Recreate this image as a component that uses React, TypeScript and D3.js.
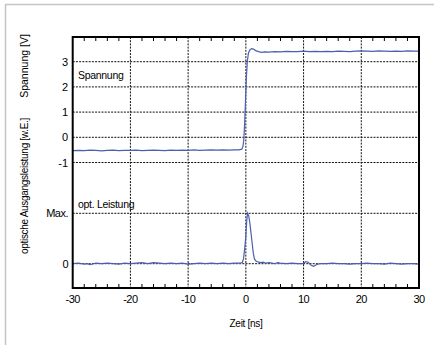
import React from "react";
import * as d3 from "d3";

const xTicks = [-30, -20, -10, 0, 10, 20, 30];
const voltTicks = [3, 2, 1, 0, -1];
const powerTicks: [number, string][] = [[1, "Max."], [0, "0"]];

const voltage: [number, number][] = [
  [-30, -0.53], [-29, -0.52], [-28, -0.53], [-27, -0.51], [-26, -0.52], [-25, -0.54], [-24, -0.52],
  [-23, -0.51], [-22, -0.53], [-21, -0.52], [-20, -0.52], [-19, -0.51], [-18, -0.53], [-17, -0.52],
  [-16, -0.51], [-15, -0.52], [-14, -0.53], [-13, -0.51], [-12, -0.52], [-11, -0.51], [-10, -0.52],
  [-9, -0.5], [-8, -0.52], [-7, -0.51], [-6, -0.5], [-5, -0.51], [-4, -0.5], [-3, -0.51], [-2, -0.5],
  [-1.2, -0.5], [-0.7, -0.47], [-0.5, -0.36], [-0.35, -0.1], [-0.2, 0.6], [-0.05, 1.5], [0.1, 2.4],
  [0.25, 3.0], [0.45, 3.35], [0.7, 3.47], [1.0, 3.52], [1.3, 3.5], [1.7, 3.44], [2.2, 3.4], [2.7, 3.37],
  [3.3, 3.39], [4, 3.38], [5, 3.4], [6, 3.39], [7, 3.41], [8, 3.4], [9, 3.4], [10, 3.42], [11, 3.4],
  [12, 3.41], [13, 3.4], [14, 3.41], [15, 3.4], [16, 3.42], [17, 3.41], [18, 3.4], [19, 3.42], [20, 3.43],
  [21, 3.42], [22, 3.41], [23, 3.43], [24, 3.42], [25, 3.41], [26, 3.42], [27, 3.41], [28, 3.43],
  [29, 3.42], [30, 3.42],
];

const power: [number, number][] = [
  [-30, 0.0], [-29, 0.01], [-28, -0.01], [-27.5, 0.0], [-27, -0.02], [-26, 0.01], [-25, 0.0], [-24, 0.01],
  [-23, 0.0], [-22, -0.01], [-21, 0.01], [-20, 0.0], [-19, 0.01], [-18, 0.02], [-17, 0.0], [-16, 0.02],
  [-15, 0.01], [-14, 0.0], [-13, 0.01], [-12, 0.0], [-11, 0.01], [-10, -0.01], [-9, 0.0], [-8, 0.01],
  [-7, 0.0], [-6, 0.01], [-5, 0.0], [-4, 0.01], [-3, 0.0], [-2, 0.01], [-1, 0.01], [-0.6, 0.03],
  [-0.4, 0.1], [-0.2, 0.3], [0, 0.55], [0.15, 0.85], [0.3, 1.0], [0.5, 0.95], [0.7, 0.8], [0.9, 0.6],
  [1.1, 0.4], [1.3, 0.2], [1.5, 0.09], [1.8, 0.05], [2.2, 0.03], [2.6, 0.02], [3, 0.03], [3.5, 0.01],
  [4, 0.02], [5, 0.0], [5.5, 0.02], [6, 0.01], [7, 0.0], [8, 0.01], [9, 0.0], [9.8, 0.0], [10.4, 0.04],
  [10.8, 0.03], [11.2, -0.02], [11.7, -0.05], [12.2, -0.02], [12.8, 0.0], [14, 0.0], [15, 0.01],
  [16, 0.0], [17, 0.0], [18, -0.01], [19, 0.0], [20, 0.0], [21, 0.01], [22, 0.0], [23, 0.0],
  [24, -0.01], [25, 0.01], [26, 0.0], [27, -0.01], [28, 0.0], [29, 0.0], [30, -0.01],
];

const W = 434, H = 348;
const L = 72.7, R = 419, T = 37, B = 288;
const FONT = "'Liberation Sans', Arial, sans-serif";
const LINE = "#4a5fb0";

export default function App() {
  const x = d3.scaleLinear().domain([-30, 30]).range([L, R]);
  const yV = d3.scaleLinear().domain([0, 3]).range([137.3, 61.7]);
  const yP = d3.scaleLinear().domain([0, 1]).range([263.7, 213.3]);
  const vLine = d3.line<[number, number]>().x(d => x(d[0])).y(d => yV(d[1]));
  const pLine = d3.line<[number, number]>().x(d => x(d[0])).y(d => yP(d[1]));
  const minor = d3.range(-28, 30, 2).filter(v => v % 10 !== 0);
  const hGrid = [...voltTicks.map(v => yV(v)), ...powerTicks.map(p => yP(p[0]))];

  return (
    <svg width={W} height={H} style={{ position: "absolute", left: 0, top: 0, background: "#fff" }} fontFamily={FONT}>
      <line x1={5} y1={4.5} x2={W} y2={4.5} stroke="#c4c4c4" strokeWidth={1.5} />
      <line x1={5.5} y1={4} x2={5.5} y2={345} stroke="#c4c4c4" strokeWidth={1.5} />
      {/* grid */}
      {xTicks.slice(1, -1).map(v => (
        <line key={"vg" + v} x1={x(v)} x2={x(v)} y1={T} y2={B} stroke="#111" strokeWidth={1} strokeDasharray="2,1.2" />
      ))}
      {hGrid.map((yy, i) => (
        <line key={"hg" + i} x1={L} x2={R} y1={yy} y2={yy} stroke="#111" strokeWidth={1} strokeDasharray="2,1.2" />
      ))}
      {/* minor ticks */}
      {minor.map(v => (
        <g key={"mt" + v}>
          <line x1={x(v)} x2={x(v)} y1={T} y2={T + 4} stroke="#000" strokeWidth={1} />
          <line x1={x(v)} x2={x(v)} y1={B} y2={B - 4} stroke="#000" strokeWidth={1} />
        </g>
      ))}
      {/* data */}
      <path d={vLine(voltage) || ""} fill="none" stroke={LINE} strokeWidth={1.2} />
      <path d={pLine(power) || ""} fill="none" stroke={LINE} strokeWidth={1.2} />
      {/* frame */}
      <rect x={L} y={T} width={R - L} height={B - T} fill="none" stroke="#000" strokeWidth={2} />
      {/* y tick labels */}
      {voltTicks.map(v => (
        <text key={"vt" + v} x={68} y={yV(v) + 4} textAnchor="end" fontSize={11}>{v}</text>
      ))}
      {powerTicks.map(([v, s]) => (
        <text key={"pt" + v} x={68} y={yP(v) + 4} textAnchor="end" fontSize={11} letterSpacing={-0.5}>{s}</text>
      ))}
      {/* x tick labels */}
      {xTicks.map(v => (
        <text key={"xt" + v} x={x(v)} y={303} textAnchor="middle" fontSize={11} letterSpacing={-0.5}>{v}</text>
      ))}
      <text x={246} y={327} textAnchor="middle" fontSize={10} letterSpacing={-0.3}>Zeit [ns]</text>
      <text transform="translate(27.5,66) rotate(-90)" textAnchor="middle" fontSize={10.5}>Spannung [V]</text>
      <text transform="translate(27.5,186) rotate(-90)" textAnchor="middle" fontSize={10} letterSpacing={-0.3}>optische Ausgangsleistung [w.E.]</text>
      <text x={78} y={79} fontSize={10.5} letterSpacing={-0.3}>Spannung</text>
      <text x={78} y={208} fontSize={10.5} letterSpacing={-0.3}>opt. Leistung</text>
    </svg>
  );
}
